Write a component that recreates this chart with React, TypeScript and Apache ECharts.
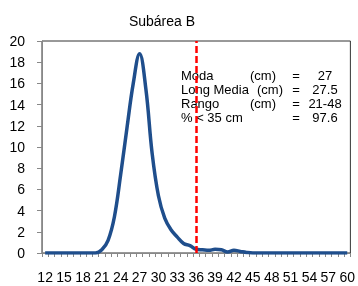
import React, { useEffect, useRef } from "react";
import * as echarts from "echarts";

const lengths = [
  "12","13","14","15","16","17","18","19","20","21","22","23","24","25","26","27","28","29","30",
  "31","32","33","34","35","36","37","38","39","40","41","42","43","44","45","46","47","48","49",
  "50","51","52","53","54","55","56","57","58","59","60",
];
const freq = [
  0, 0, 0, 0, 0, 0, 0, 0, 0, 0.3, 1.2, 3.4, 7.4, 11.8, 16.0, 18.8, 15.5, 9.4, 5.4,
  3.3, 2.2, 1.5, 0.9, 0.7, 0.35, 0.3, 0.25, 0.35, 0.3, 0.1, 0.25, 0.15, 0.05, 0, 0, 0, 0, 0,
  0, 0, 0, 0, 0, 0, 0, 0, 0, 0, 0,
];
const cutoff = "36";
const title = "Subárea B";
const statLabels = ["Moda", "Long Media", "Rango", "% < 35 cm"];
const statUnits = ["(cm)", "(cm)", "(cm)", ""];
const statValues = ["27", "27.5", "21-48", "97.6"];

export default function App() {
  const ref = useRef<HTMLDivElement>(null);
  useEffect(() => {
    if (!ref.current) return;
    const chart = echarts.init(ref.current, null, { renderer: "svg" });
    const font = "Liberation Sans, Arial, sans-serif";
    const rowY = [75, 89, 103, 117];
    const graphics: any[] = [];
    statLabels.forEach((l, i) => {
      graphics.push({ type: "text", x: 181, y: rowY[i], style: { text: l, font: `13px ${font}`, fill: "#000", verticalAlign: "middle" } });
      if (statUnits[i]) {
        graphics.push({ type: "text", x: i === 1 ? 257 : 250, y: rowY[i], style: { text: statUnits[i], font: `13px ${font}`, fill: "#000", verticalAlign: "middle" } });
      }
      graphics.push({ type: "text", x: 296, y: rowY[i], style: { text: "=", font: `13px ${font}`, fill: "#000", align: "center", verticalAlign: "middle" } });
      graphics.push({ type: "text", x: 325, y: rowY[i], style: { text: statValues[i], font: `13px ${font}`, fill: "#000", align: "center", verticalAlign: "middle" } });
    });
    chart.setOption({
      animation: false,
      title: {
        text: title,
        left: 157,
        top: 9,
        textAlign: "center",
        textStyle: { fontFamily: font, fontSize: 14, fontWeight: "normal", color: "#000" },
      },
      grid: {
        left: 42, right: 5, top: 41, bottom: 33,
        show: true, borderColor: "#333", borderWidth: 1, backgroundColor: "transparent",
      },
      xAxis: {
        type: "category",
        data: lengths,
        boundaryGap: true,
        axisLine: { lineStyle: { color: "#888" } },
        axisTick: { show: true, interval: 0, length: 4, lineStyle: { color: "#888" } },
        axisLabel: { interval: 2, color: "#000", fontSize: 14, fontFamily: font, margin: 17 },
      },
      yAxis: {
        type: "value",
        min: 0, max: 20, interval: 2,
        axisLine: { show: true, lineStyle: { color: "#888" } },
        axisTick: { show: true, length: 5, lineStyle: { color: "#888" } },
        splitLine: { show: false },
        axisLabel: { color: "#000", fontSize: 14, fontFamily: font, margin: 17 },
      },
      series: [
        {
          type: "line",
          data: freq,
          smooth: 0.4,
          symbol: "none",
          lineStyle: { color: "#1f4e8c", width: 3.5 },
          markLine: {
            silent: true,
            symbol: "none",
            label: { show: false },
            lineStyle: { color: "#ff0000", width: 2.5, type: [7, 3] },
            data: [{ xAxis: cutoff }],
          },
        },
      ],
      graphic: graphics,
    });
    return () => chart.dispose();
  }, []);
  return <div ref={ref} style={{ position: "fixed", left: 0, top: 0, width: 358, height: 286 }} />;
}
